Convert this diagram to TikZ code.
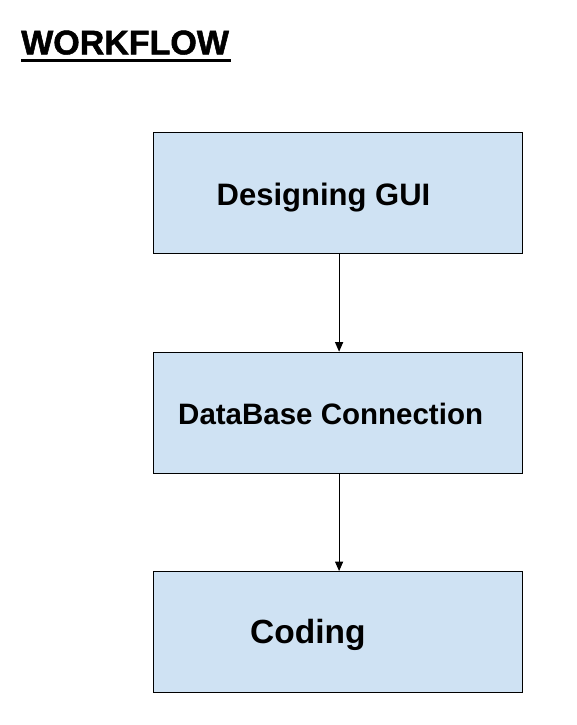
\documentclass[tikz,border=0pt]{standalone}
\usepackage{fontspec}
\setmainfont{Liberation Sans}
\usetikzlibrary{arrows.meta}
\definecolor{boxfill}{HTML}{CFE2F3}
\tikzset{
  stepbox/.style={draw=black, fill=boxfill, line width=1.2pt, minimum width=369pt, minimum height=121pt, inner sep=0pt},
  lbl/.style={anchor=base west, inner sep=0pt, font=\bfseries},
  flow/.style={draw=black, line width=1.1pt, -{Triangle[length=9.5pt, width=8pt]}}
}
\begin{document}
\begin{tikzpicture}[x=1pt, y=-1pt]
\useasboundingbox (0,0) rectangle (576,725);
\node[anchor=base west, inner sep=0pt, font=\fontsize{34}{40}\selectfont\bfseries] (title) at (21,54.3) {\addfontfeature{FakeBold=1.5}WORKFLOW};
\draw[line width=3.2pt] (21,60.7) coordinate (ul1) -- (231,60.7) coordinate (ul2);
\node[stepbox] (b1) at (337.8,193.3) {};
\node[stepbox] (b2) at (337.8,412.8) {};
\node[stepbox] (b3) at (337.8,632.2) {};
\node[lbl, font=\fontsize{31}{36}\selectfont\bfseries] (t1) at (216.5,205) {Designing GUI};
\node[lbl, font=\fontsize{29.5}{35}\selectfont\bfseries] (t2) at (178,424.3) {DataBase Connection};
\node[lbl, font=\fontsize{33.5}{40}\selectfont\bfseries] (t3) at (250,643.3) {Coding};
\draw[flow] ([xshift=1.3pt]b1.south) -- ([xshift=1.3pt]b2.north);
\draw[flow] ([xshift=1.3pt]b2.south) -- ([xshift=1.3pt]b3.north);
\end{tikzpicture}
\end{document}
